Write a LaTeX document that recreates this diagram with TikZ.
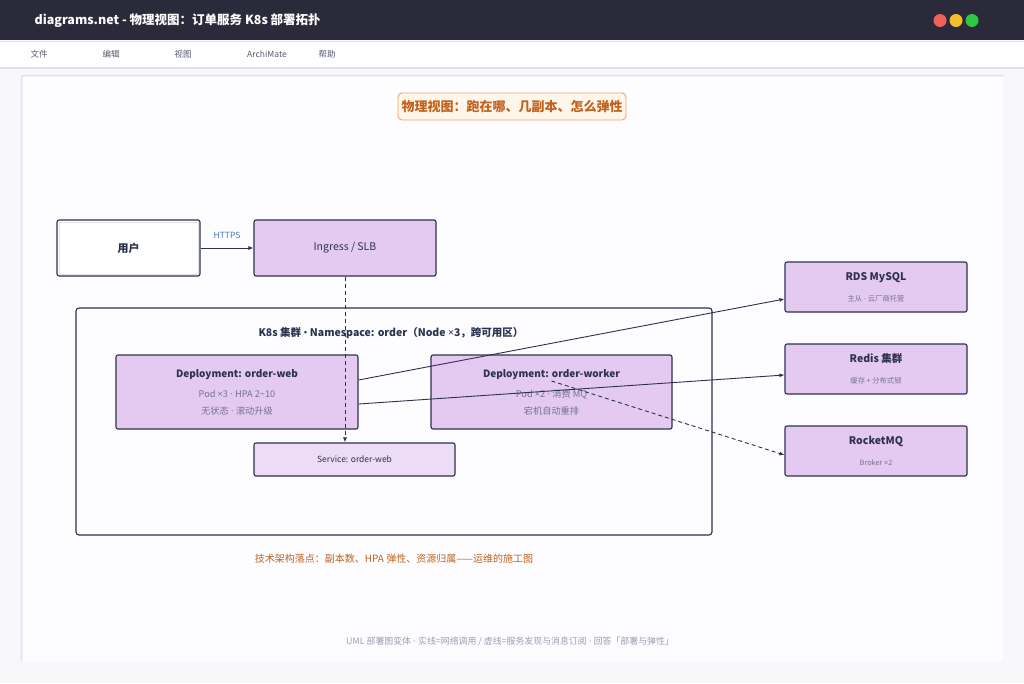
\documentclass[tikz,border=0pt]{standalone}
\usepackage{fontspec}
\setmainfont{Noto Sans CJK SC}
\newfontfamily\latn{Noto Sans}
\newcommand\md{{\latn\ ·\ }}
\newcommand\tms{{\latn ×}}
\usetikzlibrary{arrows.meta,positioning,calc}
\definecolor{Ink}{HTML}{2C3150}
\definecolor{Bar}{HTML}{2A2A3A}
\definecolor{Muted}{HTML}{74748A}
\definecolor{Lav}{HTML}{E4CAF0}
\definecolor{LavSoft}{HTML}{EDDCF6}
\definecolor{Rust}{HTML}{C2621E}
\definecolor{RustSoft}{HTML}{FFF6EB}
\definecolor{RustLine}{HTML}{EBAA5E}
\definecolor{Link}{HTML}{4A78B4}
\definecolor{Page}{HTML}{F8F8FB}
\definecolor{Sheet}{HTML}{FDFDFF}
\definecolor{Rule}{HTML}{E2E2EA}
\definecolor{Foot}{HTML}{9C9CB0}
\definecolor{LightR}{HTML}{F0605A}
\definecolor{LightY}{HTML}{F5BD2A}
\definecolor{LightG}{HTML}{2DC840}
\tikzset{
  unit/.style={rounded corners=2pt,draw=Ink,line width=1.1pt,fill=Lav,align=center,text=Ink},
  unitsoft/.style={unit,fill=LavSoft},
  plain/.style={unit,fill=white},
  banner/.style={rounded corners=4pt,draw=RustLine,line width=0.9pt,fill=RustSoft,text=Rust,font=\bfseries\fontsize{13}{15}\selectfont,minimum width=228,minimum height=27},
  arrow/.style={-{Latex[length=5pt,width=4pt]},line width=0.9pt,draw=Ink},
  hint/.style={dash pattern=on 4pt off 3pt},
  menu/.style={font=\fontsize{8.5}{10}\selectfont,text=Ink!80},
  note/.style={font=\fontsize{8.5}{10}\selectfont,text=Muted}
}
\begin{document}
\begin{tikzpicture}[x=1pt,y=-1pt]
  \fill[Page] (0,0) rectangle (1024,683);
  \useasboundingbox (0,0) rectangle (1024,683);
  % window chrome
  \fill[Bar] (0,0) rectangle (1024,40);
  \draw[Rule,line width=1pt] (0,41) -- (1024,41);
  \fill[white] (0,42) rectangle (1024,67);
  \draw[Rule,line width=1.5pt] (0,68) -- (1024,68);
  \node[anchor=west,text=white,font=\bfseries\fontsize{12.5}{14}\selectfont] (wintitle) at (31,21) {diagrams.net - 物理视图：订单服务 K8s 部署拓扑};
  \foreach \x/\c in {940/LightR,956/LightY,972/LightG} \fill[\c] (\x,20.5) circle (6.5);
  \foreach \x/\t in {39/文件,111/编辑,183/视图,267/ArchiMate,327/帮助} \node[menu] at (\x,54) {\t};
  \fill[Sheet] (22,75) rectangle (1003,662);
  \draw[Rule,line width=1.5pt,rounded corners=2pt] (21.5,662) |- (1003,75.5);
  % diagram
  \node[banner] (head) at (512,106.5) {物理视图：跑在哪、几副本、怎么弹性};
  \node[plain,minimum width=143,minimum height=56,font=\bfseries\fontsize{11}{13}\selectfont] (user) at (128.5,248) {用户};
  \draw[Rule,line width=0.8pt] ([shift={(2.5,-2.5)}]user.south west) rectangle ([shift={(-2.5,2.5)}]user.north east);
  \node[unit,minimum width=182,minimum height=56,font=\fontsize{10.5}{12}\selectfont] (ingress) at (345,248) {Ingress / SLB};
  \node[draw=Ink,line width=1.1pt,rounded corners=3pt,minimum width=636,minimum height=227] (cluster) at (394,421.5) {};
  \node[text=Ink,font=\bfseries\fontsize{10.5}{12}\selectfont] (clustertag) at (391,333) {K8s 集群 {\latn•} Namespace: order（Node {\latn\bfseries ×}3，跨可用区）};
  \node[unit,minimum width=242,minimum height=74,font=\fontsize{9.2}{17}\selectfont] (web) at (237,392)
    {{\bfseries\fontsize{10}{12}\selectfont Deployment: order-web}\\[3pt]{\color{Muted}Pod \tms3\md HPA 2\textasciitilde10}\\{\color{Muted}无状态\md 滚动升级}};
  \node[unit,minimum width=241,minimum height=74,font=\fontsize{9.2}{17}\selectfont] (worker) at (551.5,392)
    {{\bfseries\fontsize{10}{12}\selectfont Deployment: order-worker}\\[3pt]{\color{Muted}Pod \tms2\md 消费 MQ}\\{\color{Muted}宕机自动重排}};
  \node[unitsoft,minimum width=201,minimum height=33,font=\fontsize{8.5}{10}\selectfont] (svc) at (354.5,459.5) {Service: order-web};
  \node[unit,minimum width=182,minimum height=50,font=\fontsize{7.3}{21}\selectfont] (rds) at (876,287)
    {{\bfseries\fontsize{10.5}{12}\selectfont RDS MySQL}\\{\color{Muted}主从\md 云厂商托管}};
  \node[unit,minimum width=182,minimum height=50,font=\fontsize{7.3}{21}\selectfont] (redis) at (876,369)
    {{\bfseries\fontsize{10.5}{12}\selectfont Redis 集群}\\{\color{Muted}缓存 + 分布式锁}};
  \node[unit,minimum width=182,minimum height=50,font=\fontsize{7.3}{21}\selectfont] (mq) at (876,451)
    {{\bfseries\fontsize{10.5}{12}\selectfont RocketMQ}\\{\color{Muted}Broker \tms2}};
  \draw[arrow] (user) -- node[above=6pt,text=Link,font=\fontsize{8.5}{10}\selectfont]{HTTPS} (ingress);
  \draw[arrow,hint] (ingress.south) -- (ingress.south |- svc.north);
  \draw[arrow] ([yshift=12pt]web.east) -- ([yshift=-12pt]rds.west);
  \draw[arrow] ([yshift=-12pt]web.east) -- ([yshift=-6pt]redis.west);
  \draw[arrow,hint] ([yshift=11pt]worker.center) -- ([yshift=-4pt]mq.west);
  \node[text=Rust,font=\fontsize{10}{12}\selectfont] (caption) at (394,559) {技术架构落点：副本数、HPA 弹性、资源归属——运维的施工图};
  \node[text=Foot,font=\fontsize{8.9}{10}\selectfont] (footer) at (510,641) {UML 部署图变体\md 实线=网络调用 / 虚线=服务发现与消息订阅\md 回答「部署与弹性」};
\end{tikzpicture}
\end{document}
